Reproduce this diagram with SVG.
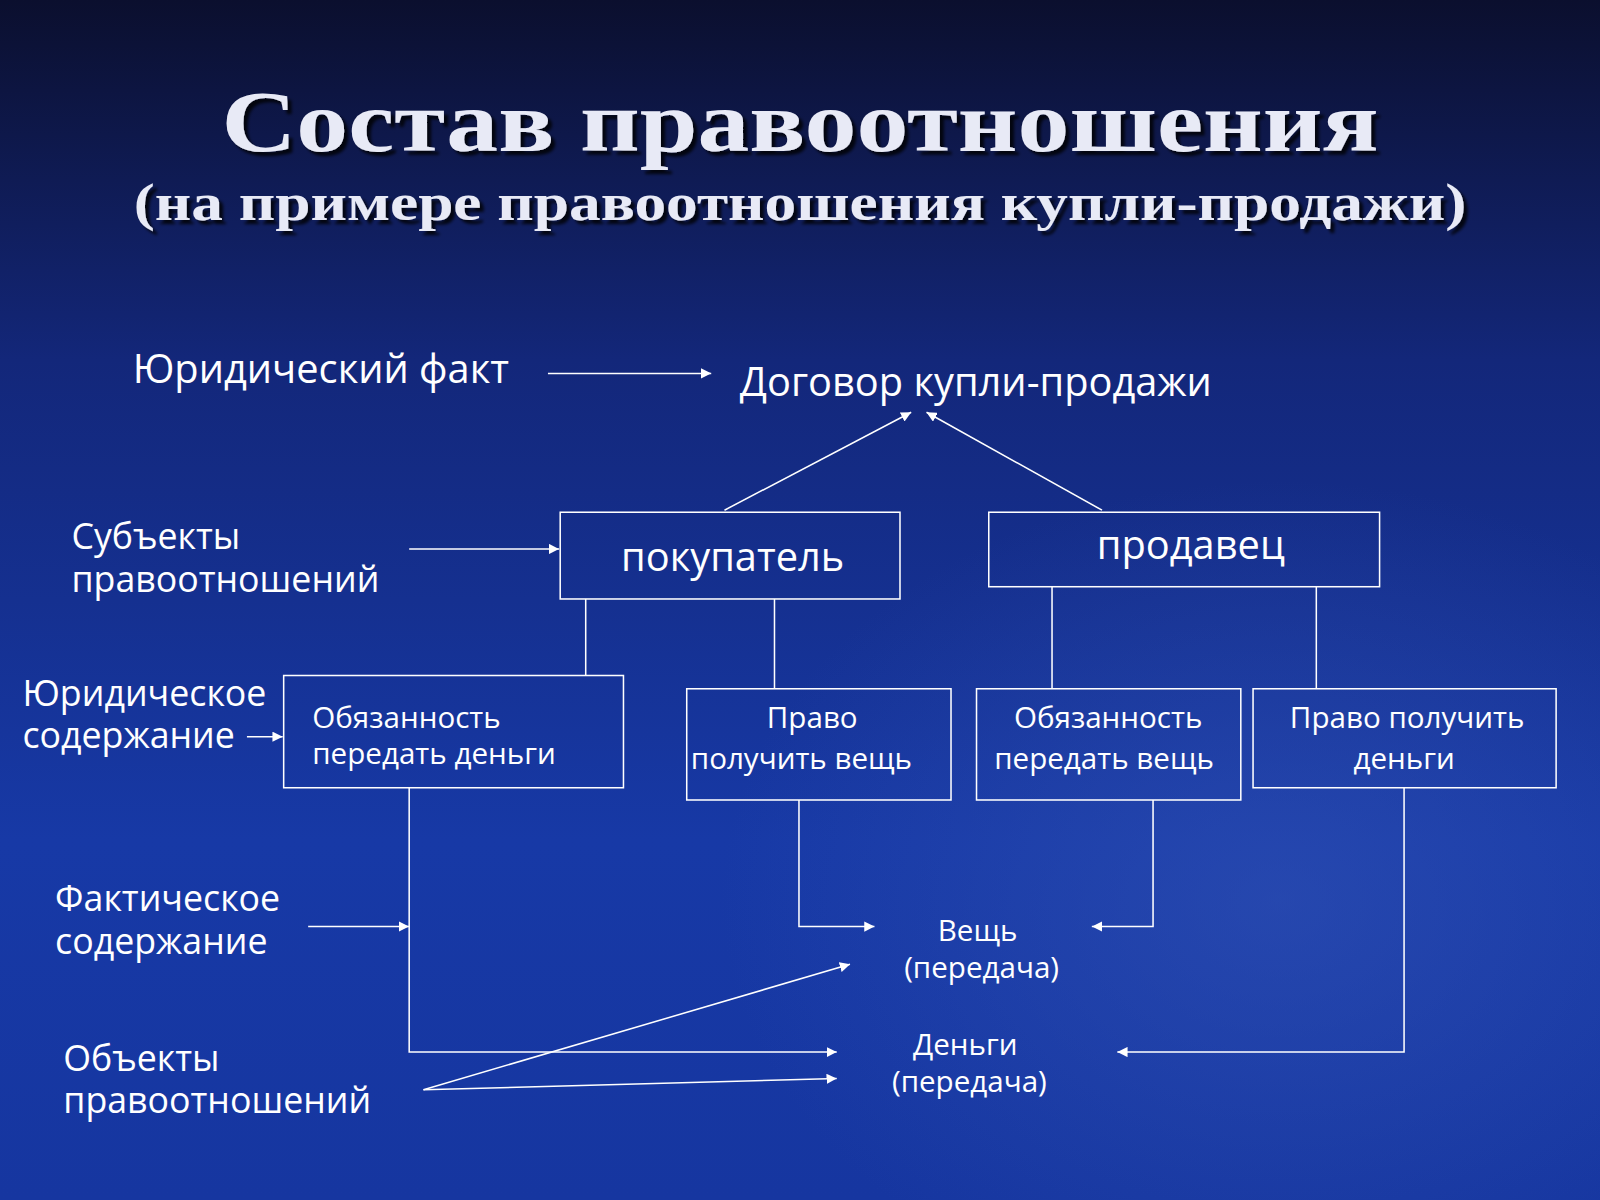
<svg xmlns="http://www.w3.org/2000/svg" width="1600" height="1200" viewBox="0 0 1600 1200">
<defs>
<linearGradient id="bg" x1="0" y1="0" x2="0" y2="1">
<stop offset="0" stop-color="#0b0f2e"/>
<stop offset="0.3" stop-color="#13277a"/>
<stop offset="0.7" stop-color="#1739a6"/>
<stop offset="1" stop-color="#1636a0"/>
</linearGradient>
<radialGradient id="sw" cx="0.8" cy="0.75" r="0.35">
<stop offset="0" stop-color="#3556b8" stop-opacity="0.5"/>
<stop offset="1" stop-color="#3556b8" stop-opacity="0"/>
</radialGradient>
<marker id="ar" viewBox="0 0 10 10" refX="10" refY="5" markerWidth="10" markerHeight="10" markerUnits="userSpaceOnUse" orient="auto">
<path d="M0,0 L10,5 L0,10 z" fill="#fff"/>
</marker>
<filter id="sh"><feDropShadow dx="4" dy="4" stdDeviation="1.5" flood-color="#000" flood-opacity="0.8"/></filter>
</defs>
<style>
.t{font-family:"Liberation Serif",serif;font-weight:bold;fill:#e8eaf6;text-anchor:middle}
.l{font-family:"Open Sans","Noto Sans",sans-serif;fill:#fff;font-size:35px}
.s{font-family:"Open Sans","Noto Sans",sans-serif;fill:#fff;font-size:29px}
.m{text-anchor:middle}
.b{fill:none;stroke:#fff;stroke-width:1.5}
.c{fill:none;stroke:#fff;stroke-width:1.5}
.a{marker-end:url(#ar)}
</style>
<rect width="1600" height="1200" fill="url(#bg)"/>
<rect width="1600" height="1200" fill="url(#sw)"/>
<g transform="scale(1.0204)">
<g id="title" filter="url(#sh)">
<text class="t" x="784" y="148" font-size="84" textLength="1134" lengthAdjust="spacingAndGlyphs">Состав правоотношения</text>
<text class="t" x="784" y="216" font-size="52" textLength="1306" lengthAdjust="spacingAndGlyphs">(на примере правоотношения купли-продажи)</text>
</g>
<g id="labels">
<text class="l" x="130" y="375" style="font-size:39px">Юридический факт</text>
<text class="l" x="70" y="538">Субъекты</text><text class="l" x="70" y="580">правоотношений</text>
<text class="l" x="22" y="692">Юридическое</text><text class="l" x="22" y="733">содержание</text>
<text class="l" x="54" y="893">Фактическое</text><text class="l" x="54" y="935">содержание</text>
<text class="l" x="62" y="1050">Объекты</text><text class="l" x="62" y="1091">правоотношений</text>
</g>
<g id="contract"><text class="l" x="725" y="388" style="font-size:39px">Договор купли-продажи</text></g>
<g id="buyer"><rect class="b" x="549" y="502" width="333" height="85"/><text class="l m" x="718" y="560" style="font-size:39px">покупатель</text></g>
<g id="seller"><rect class="b" x="969" y="502" width="383" height="73"/><text class="l m" x="1167" y="548" style="font-size:39px">продавец</text></g>
<g id="b1"><rect class="b" x="278" y="662" width="333" height="110"/><text class="s" x="306" y="713">Обязанность</text><text class="s" x="306" y="749">передать деньги</text></g>
<g id="b2"><rect class="b" x="673" y="675" width="259" height="109"/><text class="s m" x="796" y="713">Право</text><text class="s" x="677" y="754">получить вещь</text></g>
<g id="b3"><rect class="b" x="957" y="675" width="259" height="109"/><text class="s m" x="1086" y="713">Обязанность</text><text class="s m" x="1082" y="754">передать вещь</text></g>
<g id="b4"><rect class="b" x="1228" y="675" width="297" height="97"/><text class="s m" x="1379" y="713">Право получить</text><text class="s m" x="1376" y="754">деньги</text></g>
<g id="thing"><text class="s m" x="958" y="922">Вещь</text><text class="s m" x="962" y="958">(передача)</text></g>
<g id="money"><text class="s m" x="946" y="1034">Деньги</text><text class="s m" x="950" y="1070">(передача)</text></g>
<g id="connectors">
<line class="c a" x1="537" y1="366" x2="697" y2="366"/>
<line class="c a" x1="710" y1="500" x2="893" y2="404"/>
<line class="c a" x1="1080" y1="500" x2="908" y2="404"/>
<line class="c a" x1="401" y1="538" x2="548" y2="538"/>
<line class="c" x1="574" y1="587" x2="574" y2="662"/>
<line class="c" x1="759" y1="587" x2="759" y2="675"/>
<line class="c" x1="1031" y1="575" x2="1031" y2="675"/>
<line class="c" x1="1290" y1="575" x2="1290" y2="675"/>
<line class="c a" x1="242" y1="722" x2="277" y2="722"/>
<line class="c a" x1="302" y1="908" x2="401" y2="908"/>
<polyline class="c a" points="401,772 401,1031 820,1031"/>
<polyline class="c a" points="783,784 783,908 857,908"/>
<polyline class="c a" points="1130,784 1130,908 1070,908"/>
<polyline class="c a" points="1376,772 1376,1031 1095,1031"/>
<line class="c a" x1="415" y1="1068" x2="833" y2="945"/>
<line class="c a" x1="415" y1="1068" x2="820" y2="1057"/>
</g>
</g>
</svg>
